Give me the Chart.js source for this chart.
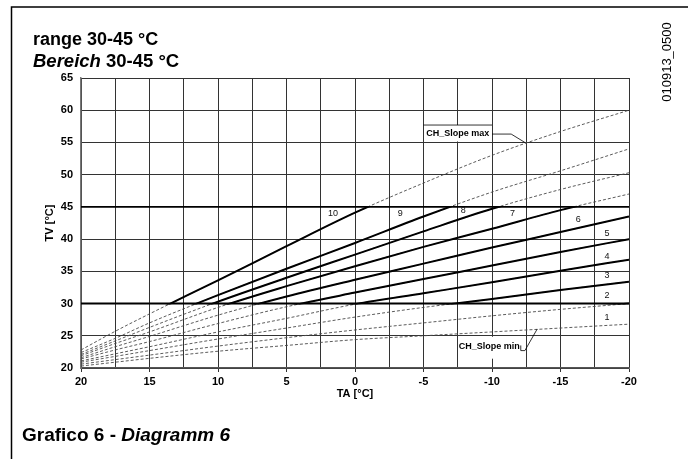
<!DOCTYPE html>
<html><head><meta charset="utf-8">
<script src="https://cdn.jsdelivr.net/npm/chart.js@4/dist/chart.umd.min.js"></script>
<style>html,body{margin:0;padding:0;background:#fff;}canvas{display:block;}</style>
</head><body>
<canvas id="c" width="688" height="459"></canvas>
<script>
// ---- data ----
const outdoorTemps = [20, 17.5, 15, 10, 5, 0, -5, -10, -15, -20];
const curve1  = [20.3, 20.9, 21.5, 22.6, 23.5, 24.4, 25.0, 25.6, 26.2, 26.8];
const curve2  = [20.6, 21.3, 22.0, 23.4, 24.7, 25.9, 27.0, 28.1, 29.1, 30.0];
const curve3  = [20.9, 21.8, 22.7, 24.5, 26.2, 27.9, 29.4, 30.7, 32.1, 33.4];
const curve4  = [21.1, 22.2, 23.3, 25.6, 27.7, 29.9, 31.6, 33.3, 35.1, 36.8];
const curve5  = [21.4, 22.8, 24.1, 26.9, 29.5, 31.7, 33.8, 35.9, 38.0, 40.0];
const curve6  = [21.6, 23.3, 24.9, 28.2, 31.1, 33.7, 36.2, 38.7, 41.1, 43.5];
const curve7  = [21.9, 23.8, 25.6, 29.4, 32.7, 35.8, 38.8, 41.6, 44.5, 47.0];
const curve8  = [22.1, 24.2, 26.3, 30.3, 34.0, 37.6, 41.2, 44.7, 47.7, 50.3];
const curve9  = [22.4, 24.6, 27.0, 31.3, 35.4, 39.4, 43.5, 47.3, 50.6, 54.0];
const curve10 = [22.8, 25.7, 28.4, 33.6, 38.9, 44.1, 48.7, 53.0, 56.7, 60.0];
const curves = [curve1, curve2, curve3, curve4, curve5, curve6, curve7, curve8, curve9, curve10];
const curveNames = ['1','2','3','4','5','6','7','8','9','10'];
const minFlow = 30;
const maxFlow = 45;
const xTickLabels = ['20','15','10','5','0','-5','-10','-15','-20'];
const yTickLabels = ['20','25','30','35','40','45','50','55','60','65'];

// ---- annotation placement (data units) ----
const curveLabelPos = [[-18.4,27.8],[-18.4,31.3],[-18.4,34.3],[-18.4,37.3],[-18.4,40.8],[-16.3,43.1],[-11.5,43.9],[-7.9,44.4],[-3.3,43.9],[1.6,43.9]];

const FONT = '"Liberation Sans", Arial, Helvetica, sans-serif';

function pts(arr){ return outdoorTemps.map((t,i)=>({x:t,y:arr[i]})); }

const datasets = [];
curves.forEach((c,i)=>{
  datasets.push({label:'dash'+curveNames[i], data:pts(c), borderColor:'#4a4a4a', borderWidth:0.9, borderDash:[3,2],
    pointRadius:0, cubicInterpolationMode:'monotone', order:30});
});
curves.forEach((c,i)=>{
  datasets.push({label:curveNames[i], data:pts(c), band:true, borderColor:'#000', borderWidth:2,
    pointRadius:0, cubicInterpolationMode:'monotone', order:10});
});
datasets.push({label:'min', data:[{x:20,y:minFlow},{x:-20,y:minFlow}], borderColor:'#000', borderWidth:2, pointRadius:0, order:20});
datasets.push({label:'max', data:[{x:20,y:maxFlow},{x:-20,y:maxFlow}], borderColor:'#000', borderWidth:1.6, pointRadius:0, order:20});

const bandClip = {
  id:'bandClip',
  beforeDatasetDraw(chart,args){
    const ds = chart.data.datasets[args.index];
    if(!ds.band) return;
    const y = chart.scales.y, a = chart.chartArea, ctx = chart.ctx;
    const top = y.getPixelForValue(maxFlow), bot = y.getPixelForValue(minFlow);
    ctx.save(); ctx.beginPath(); ctx.rect(a.left, top-1, a.right-a.left, bot-top+2); ctx.clip();
  },
  afterDatasetDraw(chart,args){
    const ds = chart.data.datasets[args.index];
    if(!ds.band) return;
    chart.ctx.restore();
  }
};

const annotations = {
  id:'annotations',
  afterDatasetsDraw(chart){
    const ctx = chart.ctx, xs = chart.scales.x, ys = chart.scales.y;
    const X = v=>xs.getPixelForValue(v), Y = v=>ys.getPixelForValue(v);
    ctx.save();
    // curve numbers
    ctx.fillStyle = '#111'; ctx.font = '9px '+FONT; ctx.textAlign='center'; ctx.textBaseline='middle';
    curveLabelPos.forEach((p,i)=>ctx.fillText(curveNames[i], X(p[0]), Y(p[1])));
    // CH_Slope max box
    ctx.fillStyle='#fff';
    let x0=X(-5), x1=X(-10), y0=Y(57.7), y1=Y(55);
    ctx.fillRect(x0+1, y0, x1-x0-2, y1-y0-1);
    ctx.strokeStyle='#000'; ctx.lineWidth=0.8;
    ctx.beginPath(); ctx.moveTo(x0, y0); ctx.lineTo(x1, y0); ctx.stroke();
    ctx.fillStyle='#000'; ctx.font='bold 9px '+FONT;
    ctx.fillText('CH_Slope max', (x0+x1)/2, (y0+y1)/2);
    ctx.beginPath(); ctx.moveTo(x1, Y(56.3)); ctx.lineTo(X(-11.4), Y(56.3)); ctx.lineTo(X(-12.4), Y(55)); ctx.stroke();
    // CH_Slope min box
    ctx.fillStyle='#fff';
    x0=X(-7.5); x1=X(-12.1); y0=Y(25); y1=Y(21.6);
    ctx.fillRect(x0+1, y0+1, x1-x0-1, y1-y0);
    ctx.fillStyle='#000';
    ctx.fillText('CH_Slope min', (x0+x1)/2, (y0+y1)/2);
    ctx.beginPath(); ctx.moveTo(x1, Y(23.5)); ctx.lineTo(x1, Y(22.7)); ctx.lineTo(X(-12.4), Y(22.7)); ctx.lineTo(X(-13.3), Y(26.05)); ctx.stroke();
    ctx.restore();
  },
  afterDraw(chart){
    const ctx = chart.ctx;
    ctx.save();
    // frame
    ctx.strokeStyle='#000'; ctx.lineWidth=1.5;
    ctx.beginPath(); ctx.moveTo(11.5, 459); ctx.lineTo(11.5, 7); ctx.lineTo(688, 7); ctx.stroke();
    ctx.fillStyle='#000'; ctx.textBaseline='alphabetic'; ctx.textAlign='left';
    // title
    ctx.font='bold 18px '+FONT;
    ctx.fillText('range 30-45 °C', 33, 45);
    ctx.font='italic bold 18.5px '+FONT;
    ctx.fillText('Bereich', 33, 67);
    let w = ctx.measureText('Bereich').width;
    ctx.font='bold 18.5px '+FONT;
    ctx.fillText(' 30-45 °C', 33+w, 67);
    // caption
    ctx.font='bold 19px '+FONT;
    ctx.fillText('Grafico 6 - ', 22, 441);
    w = ctx.measureText('Grafico 6 - ').width;
    ctx.font='italic bold 19px '+FONT;
    ctx.fillText('Diagramm 6', 22+w, 441);
    // vertical code
    ctx.translate(667, 62); ctx.rotate(-Math.PI/2);
    ctx.font='13px '+FONT; ctx.textAlign='center'; ctx.textBaseline='middle';
    ctx.fillText('010913_0500', 0, 0);
    ctx.restore();
  }
};

new Chart(document.getElementById('c'), {
  type:'line',
  data:{datasets},
  options:{
    responsive:false, animation:false, devicePixelRatio:1,
    layout:{padding:{top:78, right:59, bottom:51, left:0}},
    plugins:{legend:{display:false}, tooltip:{enabled:false}},
    scales:{
      x:{type:'linear', min:-20, max:20, reverse:true,
        afterFit(s){ s.height = 40; },
        ticks:{stepSize:2.5, autoSkip:false, maxRotation:0, color:'#000', padding:3,
          font:{family:FONT, size:11, weight:'bold'},
          callback:(v)=>{ const s = String(Math.round(v*10)/10 === 0 ? 0 : v); return xTickLabels.includes(s) ? s : ''; }},
        grid:{color:'#333', lineWidth:1, tickLength:4,
          tickColor:(c)=> (c.tick && Math.abs(c.tick.value % 5) < 1e-6) ? '#333' : 'rgba(0,0,0,0)'},
        border:{color:'#555', width:1.5},
        title:{display:true, text:'TA [°C]', color:'#000', font:{family:FONT, size:11, weight:'bold'}, padding:{top:0, bottom:7}}
      },
      y:{type:'linear', min:20, max:65,
        afterFit(s){ s.width = 81; },
        ticks:{stepSize:5, color:'#000', padding:8, font:{family:FONT, size:11, weight:'bold'},
          callback:(v)=>{ const s = String(v); return yTickLabels.includes(s) ? s : ''; }},
        grid:{color:'#333', lineWidth:1, drawTicks:false},
        border:{color:'#777', width:1.5},
        title:{display:true, text:'TV [°C]', color:'#000', font:{family:FONT, size:11, weight:'bold'}, padding:{top:43, bottom:0}}
      }
    }
  },
  plugins:[bandClip, annotations]
});
</script>
</body></html>
